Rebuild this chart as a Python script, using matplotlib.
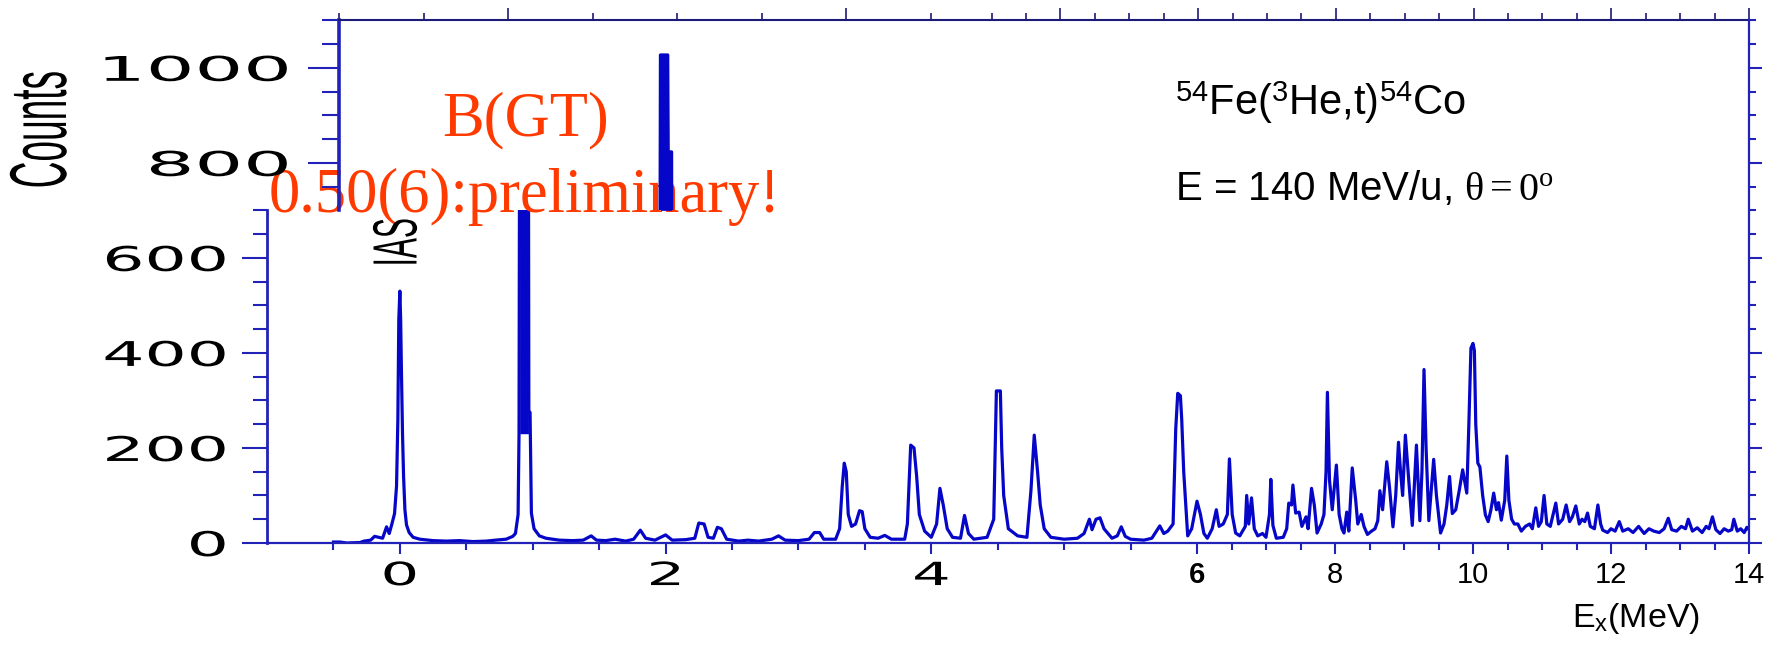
import numpy as np
import matplotlib
matplotlib.use("Agg")
import matplotlib.pyplot as plt
from matplotlib.patheffects import AbstractPathEffect
from matplotlib.transforms import Affine2D
from matplotlib.ticker import FixedLocator

# ======================
# DATA
# ======================
energy_mev = [
    -0.50, -0.45, -0.40, -0.30, -0.27, -0.22, -0.19, -0.16, -0.13, -0.10,
    -0.08, -0.06, -0.04, -0.025, -0.015, -0.008, 0.0, 0.006, 0.012, 0.02,
    0.028, 0.038, 0.05, 0.07, 0.10, 0.15, 0.25, 0.35, 0.45, 0.55,
    0.65, 0.72, 0.80, 0.85, 0.87, 0.89, 0.897, 0.902, 0.945, 0.948,
    0.968, 0.971, 0.98, 0.99, 1.01, 1.05, 1.10, 1.20, 1.30, 1.38,
    1.44, 1.48, 1.55, 1.62, 1.70, 1.76, 1.81, 1.85, 1.92, 2.00,
    2.05, 2.15, 2.22, 2.25, 2.29, 2.32, 2.36, 2.39, 2.42, 2.46,
    2.55, 2.62, 2.70, 2.80, 2.85, 2.90, 3.00, 3.08, 3.12, 3.16,
    3.19, 3.28, 3.31, 3.33, 3.345, 3.36, 3.375, 3.40, 3.43, 3.46,
    3.48, 3.50, 3.54, 3.60, 3.65, 3.70, 3.80, 3.82, 3.845, 3.87,
    3.89, 3.91, 3.95, 4.00, 4.04, 4.065, 4.09, 4.12, 4.16, 4.22,
    4.25, 4.28, 4.32, 4.42, 4.47, 4.49, 4.52, 4.53, 4.545, 4.58,
    4.65, 4.72, 4.75, 4.775, 4.80, 4.82, 4.85, 4.90, 5.00, 5.10,
    5.15, 5.19, 5.21, 5.24, 5.27, 5.30, 5.36, 5.40, 5.43, 5.46,
    5.50, 5.60, 5.66, 5.72, 5.75, 5.78, 5.82, 5.84, 5.855, 5.875,
    5.885, 5.90, 5.93, 5.96, 6.00, 6.05, 6.10, 6.15, 6.22, 6.28,
    6.32, 6.38, 6.44, 6.47, 6.51, 6.56, 6.62, 6.70, 6.72, 6.75,
    6.79, 6.83, 6.88, 6.95, 7.00, 7.05, 7.07, 7.10, 7.15, 7.25,
    7.30, 7.33, 7.37, 7.39, 7.43, 7.48, 7.52, 7.58, 7.61, 7.66,
    7.70, 7.74, 7.80, 7.84, 7.87, 7.89, 7.92, 7.96, 8.02, 8.06,
    8.10, 8.13, 8.17, 8.20, 8.25, 8.30, 8.33, 8.38, 8.42, 8.47,
    8.52, 8.58, 8.62, 8.65, 8.69, 8.75, 8.79, 8.84, 8.88, 8.92,
    8.95, 8.98, 9.02, 9.07, 9.12, 9.18, 9.23, 9.26, 9.29, 9.32,
    9.36, 9.43, 9.47, 9.53, 9.58, 9.62, 9.66, 9.70, 9.75, 9.80,
    9.85, 9.88, 9.91, 9.94, 9.97, 10.00, 10.02, 10.04, 10.07, 10.10,
    10.14, 10.18, 10.22, 10.26, 10.30, 10.34, 10.37, 10.41, 10.46, 10.49,
    10.52, 10.56, 10.60, 10.65, 10.70, 10.76, 10.82, 10.86, 10.91, 10.95,
    10.99, 11.03, 11.07, 11.12, 11.16, 11.20, 11.24, 11.30, 11.35, 11.40,
    11.44, 11.49, 11.54, 11.58, 11.62, 11.66, 11.70, 11.76, 11.81, 11.85,
    11.88, 11.95, 12.00, 12.06, 12.12, 12.17, 12.25, 12.32, 12.40, 12.48,
    12.55, 12.62, 12.70, 12.77, 12.83, 12.88, 12.95, 13.02, 13.08, 13.12,
    13.18, 13.25, 13.32, 13.38, 13.42, 13.47, 13.52, 13.58, 13.64, 13.70,
    13.75, 13.78, 13.83, 13.88, 13.93, 13.97, 14.00,
]
counts = [
    2, 2, 0, 1, 4, 6, 14, 12, 10, 34,
    20, 40, 62, 120, 260, 470, 530, 470, 360, 230,
    140, 70, 38, 22, 12, 8, 5, 4, 5, 3,
    4, 6, 8, 14, 20, 60, 230, 1027, 1027, 823,
    823, 275, 275, 63, 30, 15, 10, 6, 5, 6,
    15, 6, 5, 8, 4, 8, 27, 10, 6, 17,
    6, 7, 10, 42, 40, 12, 10, 33, 30, 8,
    4, 6, 4, 8, 15, 6, 5, 8, 22, 22,
    8, 8, 30, 120, 168, 150, 60, 35, 40, 68,
    66, 30, 12, 10, 16, 8, 8, 40, 206, 200,
    140, 60, 25, 12, 40, 115, 80, 30, 12, 10,
    58, 20, 8, 12, 50, 320, 320, 200, 100, 30,
    15, 12, 110, 227, 150, 80, 30, 12, 8, 10,
    20, 50, 28, 50, 53, 30, 10, 15, 34, 14,
    8, 6, 10, 36, 20, 25, 40, 240, 315, 310,
    260, 150, 15, 30, 88, 60, 20, 10, 30, 70,
    35, 40, 60, 177, 60, 21, 15, 35, 100, 40,
    95, 30, 15, 20, 12, 60, 134, 37, 10, 12,
    30, 84, 80, 122, 63, 65, 35, 55, 30, 115,
    80, 21, 40, 60, 150, 317, 133, 70, 164, 60,
    30, 21, 65, 25, 158, 90, 40, 60, 35, 18,
    24, 30, 47, 110, 70, 171, 117, 34, 100, 212,
    150, 100, 227, 130, 37, 206, 47, 150, 365, 200,
    47, 176, 100, 21, 40, 80, 140, 62, 70, 110,
    154, 130, 105, 250, 410, 420, 405, 250, 168, 160,
    100, 59, 45, 70, 105, 70, 85, 48, 90, 183,
    90, 50, 40, 40, 25, 35, 40, 30, 74, 35,
    45, 100, 40, 35, 60, 84, 40, 50, 80, 45,
    55, 78, 40, 50, 45, 63, 35, 30, 80, 40,
    27, 22, 30, 25, 45, 25, 30, 22, 35, 20,
    30, 25, 22, 30, 52, 28, 25, 35, 30, 50,
    25, 32, 22, 35, 30, 55, 28, 20, 30, 25,
    28, 50, 25, 30, 22, 33, 28,
]

y_ticks_lower = [0, 200, 400, 600]
y_ticks_upper = [800, 1000]
x_ticks = [0, 2, 4, 6, 8, 10, 12, 14]
x_tick_labels = ["0", "2", "4", "6", "8", "10", "12", "14"]
wide_labels = ["0", "2", "4"]

# ======================
# LAYOUT / STYLE
# ======================
W, H, DPI = 1780, 649, 100
LINE = "#0606c8"
SPINE = "#2222b8"
TOP = "#1b1b78"
RED = "#ff3a00"

PX_PER_COUNT = 0.4752
Y_BASE = 543


def fx(px):
    return px / W


def fy(py):
    return 1 - py / H


def ypx(c):
    return Y_BASE - c * PX_PER_COUNT


def piecewise(knots_e, knots_px):
    s0 = (knots_px[1] - knots_px[0]) / (knots_e[1] - knots_e[0])
    s1 = (knots_px[-1] - knots_px[-2]) / (knots_e[-1] - knots_e[-2])
    e = np.r_[knots_e[0] - 100, knots_e, knots_e[-1] + 100]
    p = np.r_[knots_px[0] - 100 * s0, knots_px, knots_px[-1] + 100 * s1]
    return (lambda x: np.interp(x, e, p)), (lambda y: np.interp(y, p, e))


class Stretch(AbstractPathEffect):
    """squeeze / widen glyphs along the text direction"""

    def __init__(self, sx, anchor="center"):
        super().__init__()
        self.sx = sx
        self.anchor = anchor

    def draw_path(self, renderer, gc, tpath, affine, rgbFace=None):
        ext = tpath.get_extents()
        cx = {"left": ext.x0, "right": ext.x1, "center": 0.5 * (ext.x0 + ext.x1)}[self.anchor]
        squeeze = Affine2D().translate(-cx, 0).scale(self.sx, 1).translate(cx, 0)
        renderer.draw_path(gc, tpath, squeeze + affine, rgbFace)


plt.rcParams["mathtext.fontset"] = "custom"
plt.rcParams["mathtext.rm"] = "Liberation Serif"
plt.rcParams["mathtext.sf"] = "Liberation Sans"
plt.rcParams["mathtext.it"] = "Liberation Serif:italic"

e_arr = np.array(energy_mev)
c_arr = np.array(counts)
tall = c_arr > 700          # the 0.94 MeV peak, drawn as a solid block

fig = plt.figure(figsize=(W / DPI, H / DPI), dpi=DPI)

x0_lo, x0_up, x_right = 267, 339, 1749
y_cut, y_top = ypx(700), ypx(1100)

# ---------- lower panel (0..700 counts) ----------
ax = fig.add_axes([fx(x0_lo), fy(Y_BASE), fx(x_right) - fx(x0_lo), fy(y_cut) - fy(Y_BASE)])
ax.set_xscale("function", functions=piecewise([-1, 6, 14], [x0_lo, 1197, x_right]))
ax.set_xlim(-1, 14)
ax.set_ylim(0, 700)
ax.plot(e_arr, c_arr, color=LINE, lw=2.3, zorder=2)
ax.fill_between(e_arr, c_arr, 230, where=tall, color=LINE, lw=0, zorder=2)
for s in ("top", "right"):
    ax.spines[s].set_visible(False)
ax.spines["left"].set_color(SPINE)
ax.spines["left"].set_linewidth(2.0)
ax.spines["bottom"].set_color(SPINE)
ax.spines["bottom"].set_linewidth(1.6)

ax.yaxis.set_major_locator(FixedLocator(y_ticks_lower))
ax.yaxis.set_minor_locator(FixedLocator(np.arange(50, 701, 50)))
ax.tick_params(axis="y", which="major", direction="out", length=18, width=1.5,
               color=SPINE, pad=11, labelsize=24.5)
ax.tick_params(axis="y", which="minor", direction="out", length=10, width=1.5, color=SPINE)
for lab in ax.get_yticklabels():
    lab.set_family("DejaVu Sans")
    lab.set_path_effects([Stretch(1.95, "right")])

ax.set_xticks(x_ticks, labels=x_tick_labels)
ax.xaxis.set_minor_locator(FixedLocator(np.arange(-0.5, 14, 0.5)))
ax.tick_params(axis="x", which="major", direction="out", length=8, width=1.5,
               color=SPINE, pad=5, labelsize=21)
ax.tick_params(axis="x", which="minor", direction="out", length=5, width=1.5, color=SPINE)
for lab in ax.get_xticklabels():
    if lab.get_text() in wide_labels:
        lab.set_family("DejaVu Sans")
        lab.set_fontsize(23)
        lab.set_path_effects([Stretch(1.9, "center")])
    else:
        lab.set_family("Liberation Sans")
        if lab.get_text() == "6":
            lab.set_fontweight("bold")

fig.text(fx(400), fy(243), "IAS", rotation=90, ha="center", va="center",
         family="Liberation Sans", fontsize=45, path_effects=[Stretch(0.48)])

# ---------- upper panel (700..1100 counts) ----------
ax2 = fig.add_axes([fx(x0_up), fy(y_cut), fx(x_right) - fx(x0_up), fy(y_top) - fy(y_cut)])
ax2.patch.set_alpha(0)
ax2.set_xscale("function", functions=piecewise([-1, 2.5, 3, 14], [x0_up, 930.5, 991.5, x_right]))
ax2.set_xlim(-1, 14)
ax2.set_ylim(700, 1100)
ax2.plot(e_arr, c_arr, color=LINE, lw=2.3, zorder=2)
ax2.fill_between(e_arr, c_arr, 700, where=tall, color=LINE, lw=0, zorder=2)
for s in ("bottom", "right"):
    ax2.spines[s].set_visible(False)
ax2.spines["left"].set_color(SPINE)
ax2.spines["left"].set_linewidth(2.6)
ax2.spines["top"].set_color(TOP)
ax2.spines["top"].set_linewidth(1.5)

ax2.yaxis.set_major_locator(FixedLocator(y_ticks_upper))
ax2.yaxis.set_minor_locator(FixedLocator(np.arange(750, 1101, 50)))
ax2.tick_params(axis="y", which="major", direction="out", length=22, width=1.5,
                color=SPINE, pad=14, labelsize=24.5)
ax2.tick_params(axis="y", which="minor", direction="out", length=12, width=1.5, color=SPINE)
for lab in ax2.get_yticklabels():
    lab.set_family("DejaVu Sans")
    lab.set_path_effects([Stretch(2.25, "right")])

ax2.xaxis.set_major_locator(FixedLocator(x_ticks))
ax2.xaxis.set_minor_locator(FixedLocator(np.arange(-1, 14, 0.5)))
ax2.tick_params(axis="x", which="both", top=True, bottom=False,
                labeltop=False, labelbottom=False, direction="out", color=TOP, width=1.2)
ax2.tick_params(axis="x", which="major", length=9)
ax2.tick_params(axis="x", which="minor", length=5)

ax2.text(fx(526), fy(135), "B(GT)", transform=fig.transFigure, ha="center", va="baseline",
         family="Liberation Serif", fontsize=45, color=RED, zorder=1)
ax2.text(fx(525), fy(212), "0.50(6):preliminary!", transform=fig.transFigure, ha="center",
         va="baseline", family="Liberation Serif", fontsize=45, color=RED, zorder=1)

# ---------- right frame, full height ----------
axr = fig.add_axes([fx(x0_lo), fy(Y_BASE), fx(x_right) - fx(x0_lo), fy(y_top) - fy(Y_BASE)])
axr.patch.set_alpha(0)
axr.set_ylim(0, 1100)
for s in ("left", "top", "bottom"):
    axr.spines[s].set_visible(False)
axr.spines["right"].set_color(SPINE)
axr.spines["right"].set_linewidth(1.6)
axr.set_xticks([])
axr.yaxis.set_major_locator(FixedLocator(np.arange(0, 1001, 200)))
axr.yaxis.set_minor_locator(FixedLocator(np.arange(0, 1101, 50)))
axr.tick_params(axis="y", which="both", left=False, right=True, labelleft=False,
                direction="out", color=SPINE, width=1.5)
axr.tick_params(axis="y", which="major", length=9)
axr.tick_params(axis="y", which="minor", length=5)

# ---------- labels ----------
fig.text(fx(45), fy(130), "Counts", rotation=90, ha="center", va="center",
         family="Liberation Sans", fontsize=58, path_effects=[Stretch(0.46)])
fig.text(fx(1572), fy(627), r"E$_{\mathsf{x}}$(MeV)", ha="left", va="baseline",
         family="Liberation Sans", fontsize=24.5)
fig.text(fx(1175), fy(115), r"$^{\mathsf{54}}$Fe($^{\mathsf{3}}$He,t)$^{\mathsf{54}}$Co",
         ha="left", va="baseline", family="Liberation Sans", fontsize=30)
fig.text(fx(1175), fy(200), r"E = 140 MeV/u, $\mathrm{\theta = 0^{o}}$",
         ha="left", va="baseline", family="Liberation Sans", fontsize=29)

fig.savefig("out.png", dpi=DPI, facecolor="white")
